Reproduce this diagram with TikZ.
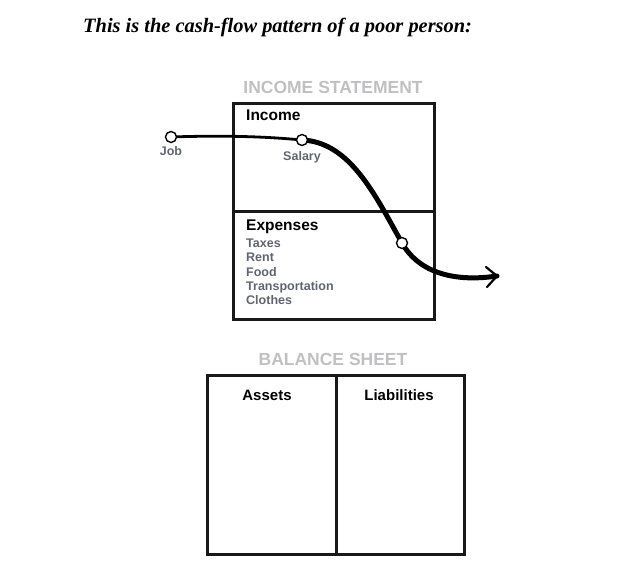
\documentclass[tikz,border=0pt]{standalone}
\usepackage{fontspec}
\setmainfont{Liberation Serif}
\setsansfont{Liberation Sans}
\usetikzlibrary{arrows.meta,positioning}

\definecolor{headgray}{RGB}{192,192,194}
\definecolor{itemgray}{RGB}{96,100,110}

\begin{document}
\begin{tikzpicture}[x=1pt,y=-1pt,
    frame/.style={draw=black!90,line width=3pt,inner sep=0pt},
    dot/.style={circle,draw,line width=1.4pt,fill=white,inner sep=0pt,minimum size=11pt},
    head/.style={font=\sffamily\bfseries\fontsize{17.5}{17.5}\selectfont,text=headgray},
    part/.style={font=\sffamily\bfseries\fontsize{15.5}{15.5}\selectfont,anchor=west,inner sep=0pt},
    side/.style={font=\sffamily\bfseries\fontsize{15}{15}\selectfont},
    item/.style={font=\sffamily\bfseries\fontsize{12.5}{12.5}\selectfont,text=itemgray},
    flow/.style={line width=5pt,line cap=round}]
        % Page size
        \useasboundingbox (0,0) rectangle (644,585);

        % Title
        \node[anchor=west,inner sep=0pt,font=\bfseries\itshape\fontsize{20.4}{20.4}\selectfont] (title) at (83,27)
            {This is the cash-flow pattern of a poor person:};

        % Income statement
        \node[head] (ishead) at (333,87) {INCOME STATEMENT};
        \node[frame,anchor=north west,minimum width=201pt,minimum height=108pt] (income) at (232,102) {};
        \node[frame,anchor=north west,minimum width=201pt,minimum height=108pt] (expenses) at (232,210) {};
        \node[part] (inclabel) at (246,115) {Income};
        \node[part] (explabel) at (246,227) {Expenses};

        % Expense items
        \foreach \y/\t in {247/Taxes,261/Rent,276/Food,290/Transportation,304/Clothes} {
            \node[item,anchor=base west,inner sep=0pt] at (246,\y) {\t};
        }

        % Cash flow
        \coordinate (job) at (171,137);
        \coordinate (salary) at (302,140);
        \coordinate (spend) at (402,243);
        \coordinate (out) at (497,276);
        \draw[line width=2.8pt,line cap=round] (job) .. controls (230,135) and (270,137) .. (salary);
        \draw[flow] (salary) .. controls (350,142) and (375,195) .. (spend);
        \draw[flow] (spend) .. controls (417,270) and (450,283) .. (out);
        \draw[line width=2.2pt,line cap=round,line join=round] (486,267) -- (out) -- (487,287);

        % Circles on the flow
        \node[dot] (jobdot) at (job) {};
        \node[dot] (salarydot) at (salary) {};
        \node[dot] (spenddot) at (spend) {};
        \node[item,below=2pt of jobdot,inner sep=1pt] (joblabel) {Job};
        \node[item,below=4pt of salarydot,inner sep=1pt] (salarylabel) {Salary};

        % Balance sheet
        \node[head] (bshead) at (333,359) {BALANCE SHEET};
        \node[frame,anchor=north west,minimum width=129pt,minimum height=179pt] (assets) at (206,374) {};
        \node[frame,anchor=north west,minimum width=128pt,minimum height=179pt] (liabilities) at (335,374) {};
        \node[side] (assetlabel) at (267,395) {Assets};
        \node[side] (liablabel) at (399,395) {Liabilities};
    \end{tikzpicture}
\end{document}
